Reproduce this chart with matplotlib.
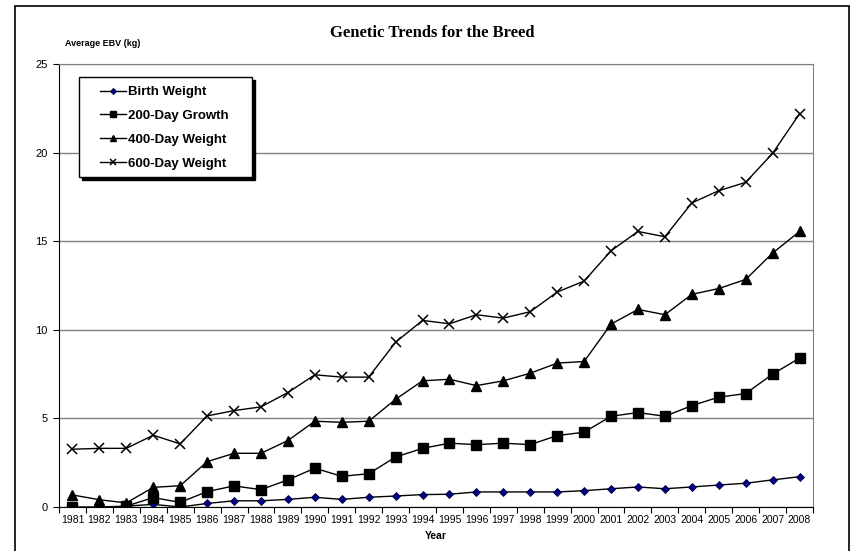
import matplotlib
matplotlib.use("Agg")
import matplotlib.pyplot as plt
from matplotlib.patches import Rectangle

years = [str(y) for y in range(1981, 2009)]

birth_weight = [0.0, 0.0, 0.05, 0.15, 0.0, 0.2, 0.35, 0.35, 0.43, 0.55, 0.43, 0.55, 0.62, 0.7,
                0.72, 0.85, 0.85, 0.85, 0.85, 0.92, 1.03, 1.13, 1.03, 1.13, 1.24, 1.34, 1.53, 1.71]
growth_200 = [0.0, -0.2, 0.05, 0.53, 0.26, 0.87, 1.19, 0.98, 1.53, 2.19, 1.73, 1.88, 2.82, 3.31,
              3.6, 3.52, 3.6, 3.52, 4.03, 4.22, 5.12, 5.33, 5.12, 5.72, 6.2, 6.4, 7.5, 8.4]
weight_400 = [0.68, 0.41, 0.23, 1.11, 1.2, 2.56, 3.03, 3.03, 3.75, 4.84, 4.78, 4.84, 6.08, 7.12,
              7.21, 6.85, 7.12, 7.55, 8.12, 8.21, 10.32, 11.15, 10.85, 12.0, 12.33, 12.84, 14.33, 15.55]
weight_600 = [3.26, 3.31, 3.31, 4.05, 3.56, 5.14, 5.44, 5.65, 6.46, 7.46, 7.33, 7.33, 9.3, 10.53,
              10.34, 10.85, 10.66, 11.02, 12.13, 12.75, 14.46, 15.55, 15.25, 17.16, 17.85, 18.32, 19.96, 22.19]

labels = ["Birth Weight", "200-Day Growth", "400-Day Weight", "600-Day Weight"]

fig = plt.figure(figsize=(8.5, 5.51), dpi=100)
W, H = 850, 551
ax = fig.add_axes([59 / W, 1 - 507 / H, (813 - 59) / W, (507 - 64) / H])

x = list(range(len(years)))
ax.plot(x, birth_weight, color="black", lw=1, marker="D", ms=4.5,
        mfc="#000080", mec="#000040", mew=0.6, label=labels[0])
ax.plot(x, growth_200, color="black", lw=1, marker="s", ms=7,
        mfc="black", mec="black", label=labels[1])
ax.plot(x, weight_400, color="black", lw=1, marker="^", ms=7,
        mfc="black", mec="black", label=labels[2])
ax.plot(x, weight_600, color="black", lw=1, marker="x", ms=7, mew=1.1,
        mec="black", label=labels[3])

ax.set_xlim(-0.5, len(years) - 0.5)
ax.set_ylim(0, 25)
ax.set_yticks([0, 5, 10, 15, 20, 25])
ax.yaxis.grid(True, color="#808080", lw=1)
ax.set_axisbelow(True)

# category ticks sit between years, labels centred on each year
ax.set_xticks([i - 0.5 for i in range(len(years) + 1)])
ax.set_xticklabels([])
ax.set_xticks(x, minor=True)
ax.set_xticklabels(years, minor=True, fontsize=7.5, family="Liberation Sans")
ax.tick_params(axis="x", which="major", direction="out", length=4, color="black")
ax.tick_params(axis="x", which="minor", length=0, pad=6)
ax.tick_params(axis="y", direction="out", length=4, labelsize=8, pad=4)
for t in ax.get_yticklabels():
    t.set_family("Liberation Sans")

for side in ["top", "right"]:
    ax.spines[side].set_color("#808080")
ax.spines["left"].set_color("black")
ax.spines["bottom"].set_color("black")

ax.set_xlabel("Year", fontsize=7.5, fontweight="bold", family="Liberation Sans", labelpad=4)

# legend box with a hard drop shadow, entries placed inside without their own frame
bx0, by0, bx1, by1 = 79, 77, 252, 177
ax.add_patch(Rectangle(((bx0 + 3) / W, 1 - (by1 + 3) / H), (bx1 - bx0) / W, (by1 - by0) / H,
                       transform=fig.transFigure, fc="black", ec="black", lw=1,
                       zorder=4, clip_on=False))
ax.add_patch(Rectangle((bx0 / W, 1 - by1 / H), (bx1 - bx0) / W, (by1 - by0) / H,
                       transform=fig.transFigure, fc="white", ec="black", lw=1,
                       zorder=4.1, clip_on=False))
leg = ax.legend(loc="upper left", bbox_to_anchor=(100 / W, 1 - 86 / H),
                bbox_transform=fig.transFigure, borderaxespad=0, borderpad=0,
                frameon=False,
                prop={"family": "Liberation Sans", "weight": "bold", "size": 9.5},
                handlelength=1.95, handletextpad=0.2, labelspacing=0.88,
                markerscale=0.7)
leg.set_zorder(5)

fig.text(432 / W, 1 - 33 / H, "Genetic Trends for the Breed", ha="center", va="center",
         fontsize=12, fontweight="bold", family="Liberation Serif")
fig.text(65 / W, 1 - 44 / H, "Average EBV (kg)", ha="left", va="center",
         fontsize=6.5, fontweight="bold", family="Liberation Sans")

# outer chart border
fig.add_artist(Rectangle((15 / W, -0.05), (849 - 15) / W, 0.05 + 1 - 6 / H,
                         transform=fig.transFigure, fill=False, ec="black", lw=1.2))

fig.savefig("out.png", dpi=100)
